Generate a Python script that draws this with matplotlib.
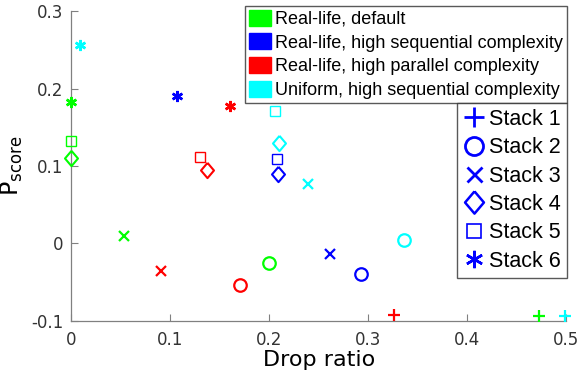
import matplotlib
matplotlib.use("Agg")
import matplotlib.pyplot as plt
from matplotlib.lines import Line2D
from matplotlib.patches import Patch

plt.rcParams["font.family"] = ["DejaVu Sans"]
plt.rcParams["mathtext.fontset"] = "dejavusans"

# series order: stack 1..6 -> (drop ratio, P_score)
scenarios = [
    "Real-life, default",
    "Real-life, high sequential complexity",
    "Real-life, high parallel complexity",
    "Uniform, high sequential complexity",
]
colors = ["#00ff00", "#0000ff", "#ff0000", "#00ffff"]
stacks = ["Stack 1", "Stack 2", "Stack 3", "Stack 4", "Stack 5", "Stack 6"]

default_x = [0.473, 0.200, 0.053, 0.000, 0.000, 0.000]
default_y = [-0.094, -0.025, 0.010, 0.110, 0.133, 0.183]
seq_x = [None, 0.293, 0.261, 0.209, 0.208, 0.107]
seq_y = [None, -0.039, -0.014, 0.090, 0.109, 0.190]
par_x = [0.326, 0.170, 0.091, 0.137, 0.130, 0.160]
par_y = [-0.093, -0.054, -0.035, 0.095, 0.112, 0.177]
uni_x = [0.499, 0.336, 0.239, 0.210, 0.206, 0.009]
uni_y = [-0.094, 0.005, 0.077, 0.130, 0.171, 0.257]

series_x = [default_x, seq_x, par_x, uni_x]
series_y = [default_y, seq_y, par_y, uni_y]

# MATLAB-like diamond is a bit taller than wide
diamond = [(0, 1), (0.85, 0), (0, -1), (-0.85, 0), (0, 1)]
markers = ["+", "o", "x", diamond, "s", (6, 2, 0)]
filled = [True, False, True, False, False, True]
plot_ms = [8.6, 9.0, 6.5, 11.0, 6.5, 8.0]
plot_mew = [1.6, 1.6, 1.6, 1.5, 1.0, 1.8]
leg_ms = [14.5, 13.0, 10.8, 16.0, 10.5, 12.5]
leg_mew = [2.0, 2.0, 2.0, 1.8, 1.2, 1.8]

fig = plt.figure(figsize=(5.8, 3.77), dpi=100)
ax = fig.add_axes([0.123, 0.149, 0.853, 0.821])

for xs, ys, col in zip(series_x, series_y, colors):
    for k in range(len(stacks)):
        if xs[k] is None:
            continue
        ax.plot(
            xs[k], ys[k],
            linestyle="none",
            marker=markers[k],
            markersize=plot_ms[k],
            markeredgewidth=plot_mew[k],
            markeredgecolor=col,
            markerfacecolor=col if filled[k] else "none",
            clip_on=False,
            zorder=3,
        )

ax.set_xlim(0, 0.5)
ax.set_ylim(-0.1, 0.3)
ax.set_xticks([0, 0.1, 0.2, 0.3, 0.4, 0.5])
ax.set_xticklabels(["0", "0.1", "0.2", "0.3", "0.4", "0.5"])
ax.set_yticks([-0.1, 0, 0.1, 0.2, 0.3])
ax.set_yticklabels(["-0.1", "0", "0.1", "0.2", "0.3"])
for side in ("top", "right"):
    ax.spines[side].set_visible(False)
for side in ("left", "bottom"):
    ax.spines[side].set_color("#808080")
    ax.spines[side].set_linewidth(0.9)
ax.tick_params(direction="in", length=5, width=0.8, colors="#808080",
               labelcolor="#333333", labelsize=12)
ax.tick_params(axis="x", pad=7)
ax.tick_params(axis="y", pad=6)
ax.set_xlabel("Drop ratio", fontsize=16, color="black", labelpad=1)
ax.set_ylabel(r"$\mathrm{P}_{\mathrm{score}}$", fontsize=17, color="black",
              labelpad=4)

h1 = [Patch(facecolor=c, edgecolor=c) for c in colors]
leg1 = fig.legend(
    h1, scenarios,
    loc="upper right", bbox_to_anchor=(566.5 / 580, 1 - 6 / 377),
    prop={"family": "Liberation Sans", "size": 13.0},
    frameon=True, fancybox=False, borderaxespad=0,
    handlelength=1.26, handleheight=1.0, handletextpad=0.2,
    labelspacing=0.3, borderpad=0.2,
)
leg1.get_frame().set_edgecolor("#303030")
leg1.get_frame().set_linewidth(1.0)

h2 = []
for k in range(len(stacks)):
    h2.append(Line2D([], [], linestyle="none", marker=markers[k],
                     markersize=leg_ms[k], markeredgewidth=leg_mew[k],
                     markeredgecolor="#0000ff",
                     markerfacecolor="#0000ff" if filled[k] else "none"))
leg2 = fig.legend(
    h2, stacks,
    loc="upper right", bbox_to_anchor=(566.5 / 580, 1 - 103 / 377),
    prop={"family": "Liberation Sans", "size": 15.5},
    frameon=True, fancybox=False, borderaxespad=0,
    handlelength=1.0, handletextpad=0.2, labelspacing=0.34, borderpad=0.28,
)
leg2.get_frame().set_edgecolor("#303030")
leg2.get_frame().set_linewidth(1.0)

fig.savefig("out.png", dpi=100)
